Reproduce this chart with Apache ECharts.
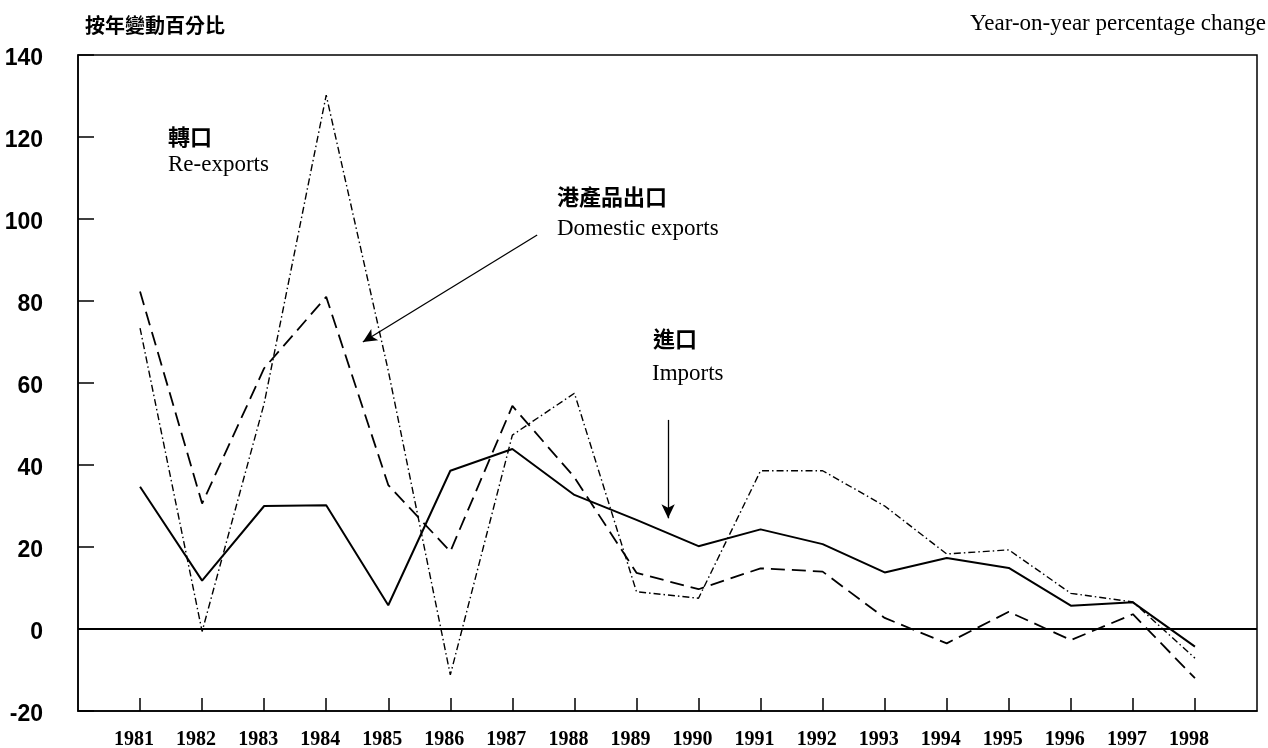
<!DOCTYPE html>
<html>
<head>
<meta charset="utf-8">
<script src="https://cdn.jsdelivr.net/npm/echarts@6/dist/echarts.min.js"></script>
<style>
html,body{margin:0;padding:0;background:#fff;}
#chart{width:1268px;height:748px;}
</style>
</head>
<body>
<div id="chart"></div>
<script>
// ---- data ----
var years = [1981,1982,1983,1984,1985,1986,1987,1988,1989,1990,1991,1992,1993,1994,1995,1996,1997,1998];
var imports = [34.7, 11.8, 30.0, 30.2, 5.8, 38.6, 43.9, 32.7, 26.6, 20.2, 24.3, 20.7, 13.8, 17.3, 14.9, 5.7, 6.5, -4.3];
var domesticExports = [82.3, 30.6, 63.6, 81.0, 35.1, 18.9, 54.4, 37.0, 13.7, 9.7, 14.8, 14.0, 2.7, -3.5, 4.2, -2.7, 3.6, -12.0];
var reExports = [73.4, -0.6, 55.0, 130.2, 63.0, -11.2, 47.3, 57.5, 9.1, 7.5, 38.6, 38.6, 30.0, 18.3, 19.3, 8.7, 6.6, -7.1];
var yTicks = [-20, 0, 20, 40, 60, 80, 100, 120, 140];

function pairs(vals){ return years.map(function(y,i){ return [y, vals[i]]; }); }

var SERIF = '"Liberation Serif","Times New Roman",serif';
var CJK = '"Noto Sans CJK TC","Noto Sans CJK SC",sans-serif';
var NARROW = '"Liberation Sans Narrow","Liberation Sans",sans-serif';

var chart = echarts.init(document.getElementById('chart'), null, {renderer:'canvas'});
var option = {
  animation: false,
  backgroundColor: '#fff',
  grid: {left: 78, right: 11, top: 55, bottom: 37, show: true, borderColor: '#000', borderWidth: 1.5,
    backgroundColor: 'transparent', containLabel: false, outerBoundsMode: 'none'},
  xAxis: {
    type: 'value', min: 1980, max: 1999, interval: 1,
    axisLine: {show: true, onZero: false, lineStyle: {color: '#000', width: 1.5}},
    axisTick: {show: true, inside: true, length: 13, customValues: years, lineStyle: {color: '#000', width: 1.5}},
    axisLabel: {show: true, customValues: years, margin: 19, padding: [0, 12, 0, 0],
      fontFamily: SERIF, fontWeight: 'bold', fontSize: 20, color: '#000',
      formatter: function(v){ return String(v); }},
    splitLine: {show: false}
  },
  yAxis: {
    type: 'value', min: -20, max: 140, interval: 20,
    axisLine: {show: true, lineStyle: {color: '#000', width: 1.5}},
    axisTick: {show: true, inside: true, length: 16, lineStyle: {color: '#000', width: 1.5}},
    axisLabel: {margin: 35, color: '#000',
      formatter: function(v){ return '{n|' + v + '}'; },
      rich: {n: {fontFamily: NARROW, fontWeight: 'bold', fontSize: 23, color: '#000', padding: [8, 0, 0, 0]}}},
    splitLine: {show: false}
  },
  series: [
    {
      name: 'Imports', type: 'line', data: pairs(imports), symbol: 'none',
      lineStyle: {color: '#000', width: 2, type: 'solid'},
      markLine: {
        silent: true, symbol: ['none','none'], label: {show: false},
        lineStyle: {color: '#000', width: 2, type: 'solid'},
        data: [{yAxis: 0}]
      }
    },
    {
      name: 'Domestic exports', type: 'line', data: pairs(domesticExports), symbol: 'none',
      lineStyle: {color: '#000', width: 1.8, type: [14, 7]}
    },
    {
      name: 'Re-exports', type: 'line', data: pairs(reExports), symbol: 'none',
      lineStyle: {color: '#000', width: 1.4, type: [7, 3, 1.5, 3]},
      markLine: {
        silent: true, symbol: ['none','arrow'], symbolSize: [10, 14], label: {show: false},
        lineStyle: {color: '#000', width: 1.3, type: 'solid'},
        data: [
          [{coord: [1987.40, 96.1]}, {coord: [1984.59, 70.0]}],
          [{coord: [1989.51, 51.0]}, {coord: [1989.51, 27.0]}]
        ]
      }
    }
  ],
  graphic: [
    {type: 'text', left: 85, top: 15, style: {text: '按年變動百分比', font: 'bold 20px ' + CJK, fill: '#000'}},
    {type: 'text', right: 2, top: 12, style: {text: 'Year-on-year percentage change', font: '23px ' + SERIF, fill: '#000'}},
    {type: 'text', left: 168, top: 126, style: {text: '轉口', font: 'bold 22px ' + CJK, fill: '#000'}},
    {type: 'text', left: 168, top: 153, style: {text: 'Re-exports', font: '23px ' + SERIF, fill: '#000'}},
    {type: 'text', left: 557, top: 186, style: {text: '港產品出口', font: 'bold 22px ' + CJK, fill: '#000'}},
    {type: 'text', left: 557, top: 217, style: {text: 'Domestic exports', font: '23px ' + SERIF, fill: '#000'}},
    {type: 'text', left: 653, top: 328, style: {text: '進口', font: 'bold 22px ' + CJK, fill: '#000'}},
    {type: 'text', left: 652, top: 362, style: {text: 'Imports', font: '23px ' + SERIF, fill: '#000'}}
  ]
};
chart.setOption(option);
</script>
</body>
</html>
